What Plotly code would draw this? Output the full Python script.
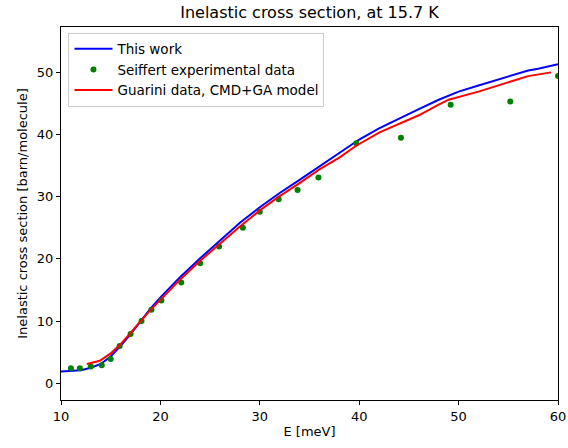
import plotly.graph_objects as go

# This work (blue line)
work_E = [10, 11, 12, 13, 14, 15, 16, 17, 18, 19, 20, 22, 24, 26, 28, 30, 32, 34, 36, 38, 40, 42, 44, 46, 48, 50, 52, 54, 56, 57, 58, 60]
work_sigma = [1.9, 2.0, 2.1, 2.5, 3.1, 4.3, 6.0, 7.9, 10.0, 12.0, 13.8, 17.1, 20.1, 23.0, 25.8, 28.3, 30.6, 32.7, 34.9, 37.0, 39.2, 41.0, 42.6, 44.1, 45.6, 46.9, 47.9, 48.9, 49.9, 50.3, 50.6, 51.3]

# Seiffert experimental data (green points)
exp_E = [11.0, 11.9, 13.0, 14.1, 15.0, 15.9, 17.0, 18.1, 19.1, 20.1, 22.1, 24.0, 25.9, 28.3, 30.0, 31.9, 33.8, 35.9, 39.7, 44.2, 49.2, 55.2, 60.0]
exp_sigma = [2.4, 2.4, 2.7, 2.9, 3.9, 6.0, 7.9, 10.0, 11.8, 13.3, 16.2, 19.3, 22.0, 25.0, 27.6, 29.6, 31.1, 33.1, 38.6, 39.5, 44.8, 45.3, 49.4]

# Guarini data, CMD+GA model (red line)
gua_E = [12.6, 13.9, 15, 16, 17, 18, 19, 20, 22, 24, 26, 28, 30, 32, 34, 36, 38, 39.7, 42, 44, 46, 48, 49, 52, 54, 56, 57, 59.3]
gua_sigma = [3.1, 3.6, 4.8, 6.3, 8.1, 9.9, 11.8, 13.4, 16.7, 19.7, 22.5, 25.2, 27.8, 30.1, 32.2, 34.4, 36.3, 38.2, 40.3, 41.7, 43.1, 44.8, 45.6, 46.9, 47.9, 49.0, 49.4, 50.0]

fig = go.Figure()
fig.add_trace(go.Scatter(x=work_E, y=work_sigma, mode="lines", name="This work",
                         line=dict(color="#0000ff", width=2)))
fig.add_trace(go.Scatter(x=exp_E, y=exp_sigma, mode="markers", name="Seiffert experimental data",
                         marker=dict(color="#008000", size=6)))
fig.add_trace(go.Scatter(x=gua_E, y=gua_sigma, mode="lines", name="Guarini data, CMD+GA model",
                         line=dict(color="#ff0000", width=2)))

font = "DejaVu Sans"
fig.update_layout(
    width=568, height=448,
    margin=dict(l=61, r=10, t=27, b=48, autoexpand=False),
    plot_bgcolor="white", paper_bgcolor="white",
    font=dict(family=font, size=12, color="black"),
    title=dict(text="Inelastic cross section, at 15.7 K", x=0.5, xref="paper", xanchor="center",
               y=0.972, yref="container", yanchor="middle",
               font=dict(family=font, size=16, color="black")),
    legend=dict(x=0.015, y=0.985, xanchor="left", yanchor="top",
                bgcolor="rgba(255,255,255,0.8)", bordercolor="#cccccc", borderwidth=1,
                font=dict(family=font, size=13.5), tracegroupgap=0, itemwidth=38),
    showlegend=True,
)
fig.update_xaxes(range=[10, 60], tickvals=[10, 20, 30, 40, 50, 60], automargin=False,
                 showgrid=False, zeroline=False, showline=True, mirror=True,
                 linecolor="black", linewidth=1, ticks="outside", ticklen=4, tickcolor="black",
                 title=dict(text="E [meV]", font=dict(family=font, size=13), standoff=4),
                 tickfont=dict(family=font, size=13))
fig.update_yaxes(range=[-2.7, 57.3], tickvals=[0, 10, 20, 30, 40, 50], automargin=False,
                 showgrid=False, zeroline=False, showline=True, mirror=True,
                 linecolor="black", linewidth=1, ticks="outside", ticklen=4, tickcolor="black",
                 title=dict(text="Inelastic cross section [barn/molecule]", font=dict(family=font, size=13), standoff=6),
                 tickfont=dict(family=font, size=13))

fig.write_html("out.html")
